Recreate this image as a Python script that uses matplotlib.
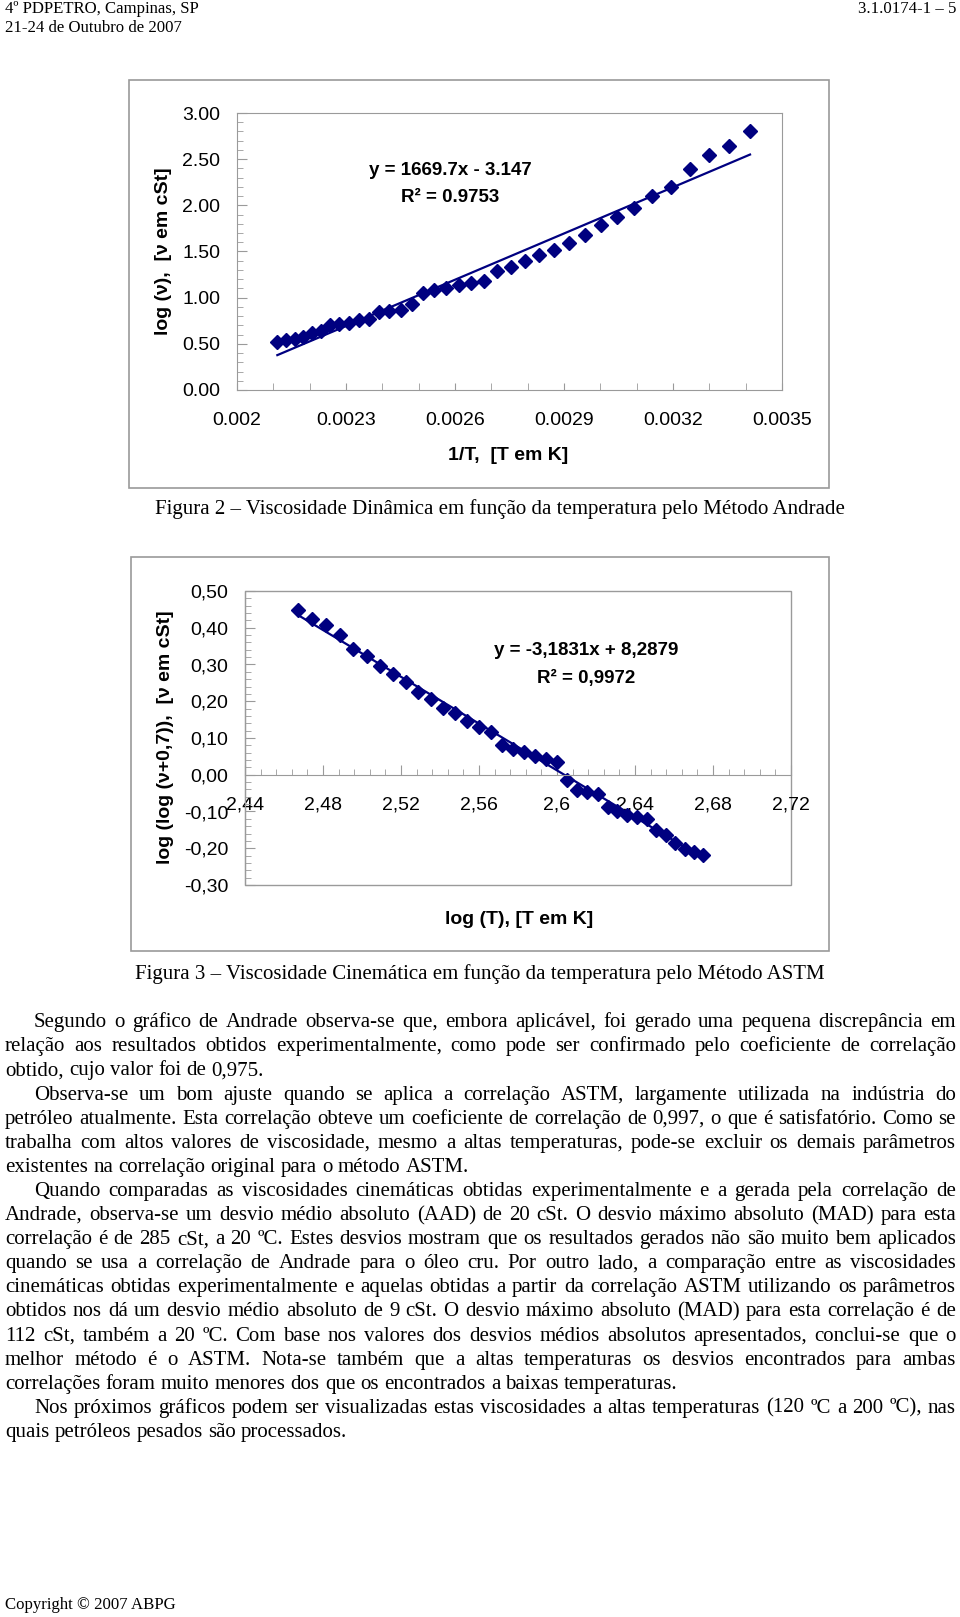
import matplotlib
matplotlib.use('Agg')
import matplotlib.pyplot as plt
from matplotlib.patches import Rectangle
from matplotlib.ticker import MultipleLocator, FixedLocator, FixedFormatter

# ---- dados (Andrade) ----
andrade_x = [0.002111, 0.002136, 0.002160, 0.002181, 0.002207, 0.002230, 0.002256,
             0.002282, 0.002307, 0.002336, 0.002364, 0.002390, 0.002419, 0.002450,
             0.002481, 0.002511, 0.002543, 0.002575, 0.002610, 0.002644, 0.002680,
             0.002716, 0.002754, 0.002792, 0.002831, 0.002872, 0.002915, 0.002957,
             0.003001, 0.003046, 0.003094, 0.003143, 0.003194, 0.003246, 0.003298,
             0.003354, 0.003412]
andrade_y = [0.521, 0.539, 0.547, 0.575, 0.619, 0.644, 0.706, 0.717, 0.727, 0.756,
             0.764, 0.847, 0.861, 0.869, 0.934, 1.053, 1.078, 1.104, 1.133, 1.155,
             1.183, 1.288, 1.335, 1.397, 1.462, 1.513, 1.589, 1.679, 1.784, 1.875,
             1.969, 2.096, 2.197, 2.396, 2.548, 2.638, 2.809]
andrade_fit = (1669.7, -3.147)
andrade_ticks = [0.002, 0.0023, 0.0026, 0.0029, 0.0032, 0.0035]
andrade_ticklabels = ['0.002', '0.0023', '0.0026', '0.0029', '0.0032', '0.0035']

# ---- dados (ASTM) ----
astm_x = [2.4673, 2.4744, 2.4814, 2.4885, 2.4955, 2.5026, 2.5092, 2.5158, 2.5224,
          2.5289, 2.5355, 2.5416, 2.5478, 2.5539, 2.5600, 2.5661, 2.5718, 2.5774,
          2.5831, 2.5889, 2.5944, 2.5998, 2.6052, 2.6104, 2.6155, 2.6209, 2.6259,
          2.6308, 2.6360, 2.6412, 2.6459, 2.6508, 2.6558, 2.6607, 2.6654, 2.6701,
          2.6748]
astm_y = [0.449, 0.424, 0.408, 0.381, 0.342, 0.324, 0.295, 0.275, 0.252, 0.225,
          0.205, 0.182, 0.167, 0.147, 0.131, 0.117, 0.081, 0.070, 0.061, 0.052,
          0.042, 0.035, -0.013, -0.041, -0.046, -0.053, -0.089, -0.098, -0.109,
          -0.116, -0.121, -0.151, -0.164, -0.187, -0.203, -0.209, -0.219]
astm_fit = (-3.1831, 8.2879)
astm_ticks = [2.44, 2.48, 2.52, 2.56, 2.60, 2.64, 2.68, 2.72]
astm_ticklabels = ['2,44', '2,48', '2,52', '2,56', '2,6', '2,64', '2,68', '2,72']
astm_yticks = [-0.3, -0.2, -0.1, 0.0, 0.1, 0.2, 0.3, 0.4, 0.5]
astm_yticklabels = ['-0,30', '-0,20', '-0,10', '0,00', '0,10', '0,20', '0,30', '0,40', '0,50']

paragraphs = [
    ["Segundo o gráfico de Andrade observa-se que, embora aplicável, foi gerado uma pequena discrepância em",
     "relação aos resultados obtidos experimentalmente, como pode ser confirmado pelo coeficiente de correlação",
     "obtido, cujo valor foi de 0,975."],
    ["Observa-se um bom ajuste quando se aplica a correlação ASTM, largamente utilizada na indústria do",
     "petróleo atualmente. Esta correlação obteve um coeficiente de correlação de 0,997, o que é satisfatório. Como se",
     "trabalha com altos valores de viscosidade, mesmo a altas temperaturas, pode-se excluir os demais parâmetros",
     "existentes na correlação original para o método ASTM."],
    ["Quando comparadas as viscosidades cinemáticas obtidas experimentalmente e a gerada pela correlação de",
     "Andrade, observa-se um desvio médio absoluto (AAD) de 20 cSt. O desvio máximo absoluto (MAD) para esta",
     "correlação é de 285 cSt, a 20 ºC. Estes desvios mostram que os resultados gerados não são muito bem aplicados",
     "quando se usa a correlação de Andrade para o óleo cru. Por outro lado, a comparação entre as viscosidades",
     "cinemáticas obtidas experimentalmente e aquelas obtidas a partir da correlação ASTM utilizando os parâmetros",
     "obtidos nos dá um desvio médio absoluto de 9 cSt. O desvio máximo absoluto (MAD) para esta correlação é de",
     "112 cSt, também a 20 ºC. Com base nos valores dos desvios médios absolutos apresentados, conclui-se que o",
     "melhor método é o ASTM. Nota-se também que a altas temperaturas os desvios encontrados para ambas",
     "correlações foram muito menores dos que os encontrados a baixas temperaturas."],
    ["Nos próximos gráficos podem ser visualizadas estas viscosidades a altas temperaturas (120 ºC a 200 ºC), nas",
     "quais petróleos pesados são processados."],
]

W, H = 960, 1617
NAVY = '#000080'
GRAY = '#9a9a9a'
SANS = 'Liberation Sans'
SERIF = 'Liberation Serif'

fig = plt.figure(figsize=(W / 100, H / 100), dpi=100)
fig.patch.set_facecolor('white')


def box(l, t, r, b):
    return [l / W, 1 - b / H, (r - l) / W, (b - t) / H]


def ftext(x, y, s, **kw):
    return fig.text(x / W, 1 - y / H, s, **kw)


def frame(l, t, r, b):
    fig.add_artist(Rectangle((l / W, 1 - b / H), (r - l) / W, (b - t) / H,
                             transform=fig.transFigure, fill=False, ec=GRAY, lw=1.2))


# ================= Figura 2 (Andrade) =================
frame(129, 80, 829, 488)
ax1 = fig.add_axes(box(237, 113, 782, 390))
ax1.plot(andrade_x, andrade_y, ls='none', marker='D', ms=7.5, color=NAVY, mec=NAVY)
xa = [min(andrade_x), max(andrade_x)]
ax1.plot(xa, [andrade_fit[0] * v + andrade_fit[1] for v in xa], color=NAVY, lw=1.6)
ax1.set_xlim(0.002, 0.0035)
ax1.set_ylim(0, 3)
for s in ax1.spines.values():
    s.set_color(GRAY)
ax1.xaxis.set_major_locator(FixedLocator(andrade_ticks))
ax1.xaxis.set_major_formatter(FixedFormatter(andrade_ticklabels))
ax1.xaxis.set_minor_locator(MultipleLocator(0.0001))
ax1.yaxis.set_major_locator(MultipleLocator(0.5))
ax1.yaxis.set_minor_locator(MultipleLocator(0.1))
ax1.yaxis.set_major_formatter(matplotlib.ticker.FormatStrFormatter('%.2f'))
ax1.tick_params(axis='x', which='both', direction='in', length=5, color=GRAY, pad=16,
                labelsize=14, top=False)
ax1.tick_params(axis='y', which='major', direction='in', length=7, color=GRAY, pad=12,
                labelsize=14, right=False)
ax1.tick_params(axis='y', which='minor', direction='in', length=4, color=GRAY, right=False)
for lab in ax1.get_xticklabels() + ax1.get_yticklabels():
    lab.set_fontfamily(SANS)
ftext(163, 251, 'log (ν),  [ν em cSt]', rotation=90, ha='center', va='center',
      fontsize=14, fontweight='bold', family=SANS)
ftext(508, 455, '1/T,  [T em K]', ha='center', va='center', fontsize=14,
      fontweight='bold', family=SANS)
ftext(450, 170, 'y = 1669.7x - 3.147', ha='center', va='center', fontsize=13.5,
      fontweight='bold', family=SANS)
ftext(450, 198, 'R² = 0.9753', ha='center', va='center', fontsize=13.5,
      fontweight='bold', family=SANS)

# ================= Figura 3 (ASTM) =================
frame(131, 557, 829, 951)
ax2 = fig.add_axes(box(245, 591, 791, 885))
ax2.plot(astm_x, astm_y, ls='none', marker='D', ms=7.5, color=NAVY, mec=NAVY)
xb = [min(astm_x), max(astm_x)]
ax2.plot(xb, [astm_fit[0] * v + astm_fit[1] for v in xb], color=NAVY, lw=1.6)
ax2.set_xlim(2.44, 2.72)
ax2.set_ylim(-0.3, 0.5)
ax2.spines['top'].set_visible(False)
ax2.spines['right'].set_visible(False)
ax2.spines['left'].set_color(GRAY)
ax2.spines['bottom'].set_color(GRAY)
ax2.spines['bottom'].set_position(('data', 0))
ax2.add_patch(Rectangle((0, 0), 1, 1, transform=ax2.transAxes, fill=False, ec=GRAY,
                        lw=1.0, clip_on=False))
ax2.xaxis.set_major_locator(FixedLocator(astm_ticks))
ax2.xaxis.set_major_formatter(FixedFormatter(astm_ticklabels))
ax2.xaxis.set_minor_locator(MultipleLocator(0.008))
ax2.yaxis.set_major_locator(FixedLocator(astm_yticks))
ax2.yaxis.set_major_formatter(FixedFormatter(astm_yticklabels))
ax2.yaxis.set_minor_locator(MultipleLocator(0.02))
ax2.tick_params(axis='x', which='major', direction='in', length=7, color=GRAY, pad=16,
                labelsize=14, top=False)
ax2.tick_params(axis='x', which='minor', direction='in', length=4, color=GRAY, top=False)
ax2.tick_params(axis='y', which='major', direction='in', length=7, color=GRAY, pad=12,
                labelsize=14, right=False)
ax2.tick_params(axis='y', which='minor', direction='in', length=4, color=GRAY, right=False)
for lab in ax2.get_xticklabels() + ax2.get_yticklabels():
    lab.set_fontfamily(SANS)
ftext(165, 737, 'log (log (ν+0,7)),  [ν em cSt]', rotation=90, ha='center', va='center',
      fontsize=14, fontweight='bold', family=SANS)
ftext(519, 919, 'log (T), [T em K]', ha='center', va='center', fontsize=14,
      fontweight='bold', family=SANS)
ftext(586, 650, 'y = -3,1831x + 8,2879', ha='center', va='center', fontsize=13.5,
      fontweight='bold', family=SANS)
ftext(586, 678, 'R² = 0,9972', ha='center', va='center', fontsize=13.5,
      fontweight='bold', family=SANS)

# ================= texto da pagina =================
renderer = fig.canvas.get_renderer()


def width_px(s, size):
    t = fig.text(0, 0, s, fontsize=size, family=SERIF)
    w = t.get_window_extent(renderer).width
    t.remove()
    return w


# tamanho da fonte calibrado pela largura de uma linha curta do texto
size = 10 * 258 / width_px('obtido, cujo valor foi de 0,975.', 10)
small = size * 0.8
LEFT, RIGHT, INDENT = 5, 956, 34

ftext(5, 9, '4º PDPETRO, Campinas, SP', ha='left', va='center', fontsize=small, family=SERIF)
ftext(5, 28, '21-24 de Outubro de 2007', ha='left', va='center', fontsize=small, family=SERIF)
ftext(956, 9, '3.1.0174-1 – 5', ha='right', va='center', fontsize=small, family=SERIF)
ftext(500, 509, 'Figura 2 – Viscosidade Dinâmica em função da temperatura pelo Método Andrade',
      ha='center', va='center', fontsize=size, family=SERIF)
ftext(480, 974, 'Figura 3 – Viscosidade Cinemática em função da temperatura pelo Método ASTM',
      ha='center', va='center', fontsize=size, family=SERIF)
ftext(5, 1605, 'Copyright © 2007 ABPG', ha='left', va='center', fontsize=small, family=SERIF)

space = width_px('a a', size) - width_px('aa', size)
base_off = 0.25 * size * 100 / 72   # do centro da linha ate a linha de base
y = 1022
for par in paragraphs:
    for i, line in enumerate(par):
        x0 = INDENT if i == 0 else LEFT
        words = line.split(' ')
        ws = [width_px(w, size) for w in words]
        last = i == len(par) - 1
        gap = space if last else (RIGHT - x0 - sum(ws)) / (len(words) - 1)
        x = x0
        for w, wd in zip(words, ws):
            ftext(x, y + base_off, w, ha='left', va='baseline', fontsize=size, family=SERIF)
            x += wd + gap
        y += 24.1

fig.savefig('out.png', dpi=100, facecolor='white')
